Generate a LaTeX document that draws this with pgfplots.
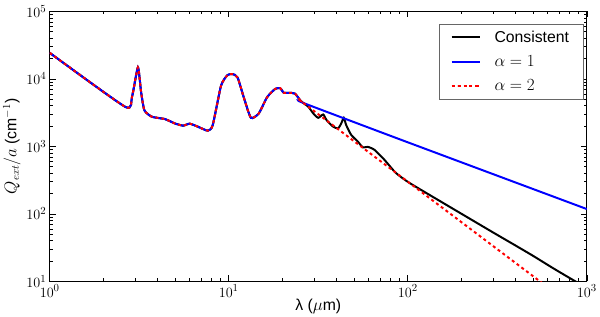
\documentclass[border=0pt]{standalone}
\usepackage{fontspec}
\setmainfont{Liberation Sans}
\usepackage{pgfplots}
\pgfplotsset{compat=1.18}

\begin{document}
\begin{tikzpicture}
\begin{axis}[
  scale only axis,
  width=543bp, height=273bp,
  xmode=log, ymode=log,
  xmin=1, xmax=1000, ymin=10, ymax=1e5,
  xtick={1,10,100,1000}, ytick={10,100,1000,10000,100000},
  major tick length=6bp, minor tick length=3bp,
  every tick/.style={black, line width=0.6bp},
  axis line style={line width=0.8bp},
  ticklabel style={font=\fontsize{15.5}{18}\selectfont},
  xlabel={\fontsize{16}{19}\selectfont λ ($\mu$m)},
  ylabel={\fontsize{16}{19}\selectfont $Q_{ext}/a$ (cm$^{-1}$)},
  xlabel style={yshift=5bp},
  ylabel style={yshift=-1bp},
  legend style={at={(0.993,0.954)}, anchor=north east,
    font=\fontsize{16}{19}\selectfont, draw=black!60,
    row sep=8bp, inner xsep=12bp, inner ysep=5bp,
    /tikz/every odd column/.append style={column sep=12bp},
    /tikz/every even column/.append style={column sep=12bp}},
  legend cell align=left,
  legend image code/.code={%
    \draw[mark repeat=2,mark phase=2,#1] plot coordinates {(0cm,0cm) (0.5cm,0cm) (1cm,0cm)};},
  smooth, tension=0.35,
]
% consistent model
\addplot[black, line width=2bp] coordinates {
  (1,24500)(1.086,20700)(2.65,3840)(2.88,5380)(3.11,14800)(3.24,6370)
  (3.38,3430)(3.72,2750)(4.40,2540)(5.00,2190)(5.56,2030)(6.05,2170)
  (6.72,1960)(7.64,1710)(8.14,2070)(9.06,7960)(9.85,11400)(10.5,11800)
  (11.2,10500)(12.2,5080)(13.3,2650)(14.7,3070)(16.4,5380)(18.2,7120)
  (19.4,7290)(20.3,6220)(22.1,6220)(23.5,6010)(25.1,4800)(26.1,4400)
  (27.9,3840)(29.7,3070)(31.6,2650)(33.7,2970)(35.2,2450)(38.3,1960)
  (40.8,1850)(42.5,2190)(43.9,2650)(45.3,2070)(48.3,1480)(52.6,1180)
  (56.1,966)(59.7,986)(65.1,891)(73.9,637)(85.6,407)(101.5,291)
  (150,157)(200,100)(300,53)(400,34)(500,24)(656,15.4)(864,10.0)(1000,8.0)
};
\addlegendentry{Consistent}
% alpha = 1
\addplot[blue, line width=2bp] coordinates {
  (1,24500)(1.086,20700)(2.65,3840)(2.88,5380)(3.11,14800)(3.24,6370)
  (3.38,3430)(3.72,2750)(4.40,2540)(5.00,2190)(5.56,2030)(6.05,2170)
  (6.72,1960)(7.64,1710)(8.14,2070)(9.06,7960)(9.85,11400)(10.5,11800)
  (11.2,10500)(12.2,5080)(13.3,2650)(14.7,3070)(16.4,5380)(18.2,7120)
  (19.4,7290)(20.3,6220)(22.1,6220)(23.5,6010)(25.1,4800)(26.1,4400)
  (100,1150)(1000,118)
};
\addlegendentry{$\alpha=1$}
% alpha = 2
\addplot[red, line width=2bp, dash pattern=on 3bp off 3bp] coordinates {
  (1,24500)(1.086,20700)(2.65,3840)(2.88,5380)(3.11,14800)(3.24,6370)
  (3.38,3430)(3.72,2750)(4.40,2540)(5.00,2190)(5.56,2030)(6.05,2170)
  (6.72,1960)(7.64,1710)(8.14,2070)(9.06,7960)(9.85,11400)(10.5,11800)
  (11.2,10500)(12.2,5080)(13.3,2650)(14.7,3070)(16.4,5380)(18.2,7120)
  (19.4,7290)(20.3,6220)(22.1,6220)(23.5,6010)(25.1,4800)(26.1,4400)
  (100,300)(1000,3.0)
};
\addlegendentry{$\alpha=2$}
\end{axis}
% white margin above the axis, as in the reference
\path (current axis.north) ++(0,11.5bp);
\end{tikzpicture}
\end{document}
